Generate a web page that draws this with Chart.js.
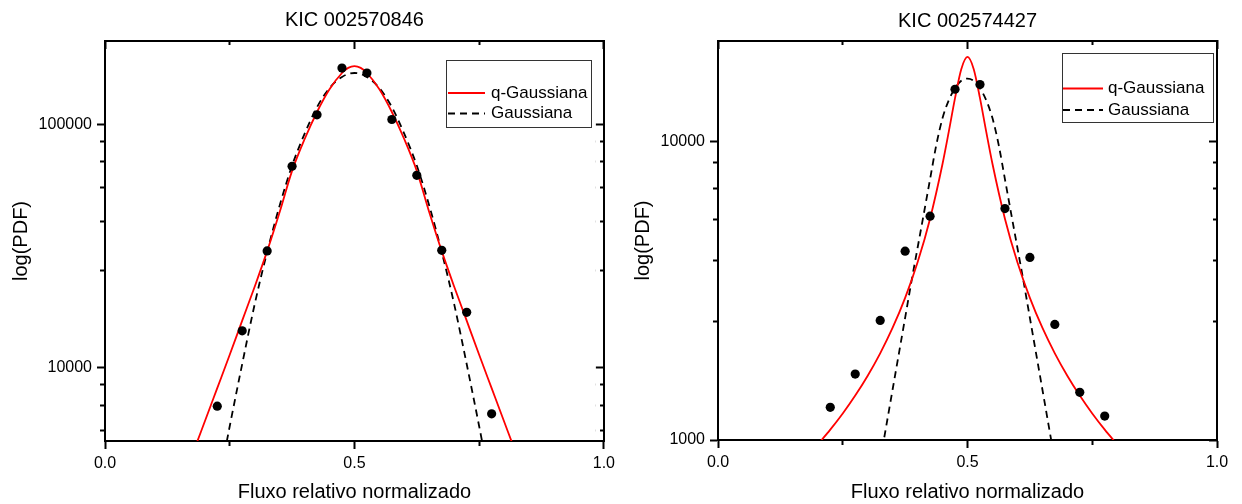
<!DOCTYPE html>
<html>
<head>
<meta charset="utf-8">
<script src="https://cdn.jsdelivr.net/npm/chart.js@4.4.1/dist/chart.umd.min.js"></script>
<style>
  html, body { margin: 0; padding: 0; background: #fff; }
  #wrapL { position: absolute; left: 0; top: 0; width: 620px; height: 504px; }
  #wrapR { position: absolute; left: 620px; top: 0; width: 622px; height: 504px; }
</style>
</head>
<body>
<div id="wrapL"><canvas id="cL" width="620" height="504"></canvas></div>
<div id="wrapR"><canvas id="cR" width="622" height="504"></canvas></div>
<script>
// ---------- shared axis data ----------
const X_TITLE = 'Fluxo relativo normalizado';
const Y_TITLE = 'log(PDF)';
const X_TICKS = [0, 0.25, 0.5, 0.75, 1];
const X_TICK_LABELS = ['0.0', '', '0.5', '', '1.0'];
const SERIES_NAMES = ['q-Gaussiana', 'Gaussiana'];

// bin centres of the histogram points
const BIN_X = [0.225, 0.275, 0.325, 0.375, 0.425, 0.475, 0.525, 0.575, 0.625, 0.675, 0.725, 0.775];

// ---------- left panel : KIC 002570846 ----------
const LEFT_TITLE = 'KIC 002570846';
const LEFT_PDF = [6950, 14170, 30170, 67150, 109200, 169900, 162200, 104500, 61650, 30340, 16880, 6465];
const LEFT_Q_X = [0.17, 0.185, 0.2, 0.225, 0.25, 0.275, 0.3, 0.325, 0.35, 0.375, 0.4, 0.425, 0.45, 0.475, 0.4875, 0.5,
                  0.5125, 0.525, 0.55, 0.575, 0.6, 0.625, 0.65, 0.675, 0.7, 0.725, 0.75, 0.775, 0.8, 0.815, 0.83];
const LEFT_Q_Y = [4120, 4980, 6010, 8240, 11300, 15600, 21500, 30100, 43500, 64300, 86700, 112200, 139000, 162200, 170200, 173000,
                  170200, 162200, 139000, 112200, 86700, 64300, 43500, 30100, 21500, 15600, 11300, 8240, 6010, 4980, 4120];
const LEFT_G_X = [0.235, 0.25, 0.275, 0.3, 0.325, 0.35, 0.375, 0.4, 0.425, 0.45, 0.475, 0.5,
                  0.525, 0.55, 0.575, 0.6, 0.625, 0.65, 0.675, 0.7, 0.725, 0.75, 0.765];
const LEFT_G_Y = [3980, 5750, 10350, 18200, 29850, 46240, 67600, 91200, 117500, 140600, 156300, 162200,
                  156300, 140600, 117500, 91200, 67600, 46240, 29850, 18200, 10350, 5750, 3980];
const LEFT_Y_MIN = 5000, LEFT_Y_MAX = 219500;
const LEFT_Y_TICKS = [5500, 7000, 8500, 10000, 25000, 40000, 55000, 70000, 85000, 100000];
const LEFT_Y_LABELS = ['', '', '', '10000', '', '', '', '', '', '100000'];

// ---------- right panel : KIC 002574427 ----------
const RIGHT_TITLE = 'KIC 002574427';
const RIGHT_PDF = [1287, 1664, 2518, 4300, 5634, 15020, 15570, 5977, 4096, 2442, 1445, 1203];
const RIGHT_Q_X = [0.2, 0.225, 0.25, 0.275, 0.3, 0.325, 0.35, 0.375, 0.4, 0.425, 0.45, 0.4625, 0.475, 0.4875, 0.5,
                   0.5125, 0.525, 0.5375, 0.55, 0.575, 0.6, 0.625, 0.65, 0.675, 0.7, 0.725, 0.75, 0.775, 0.8];
const RIGHT_Q_Y = [966, 1083, 1227, 1409, 1643, 1953, 2380, 2997, 3945, 5527, 8445, 10820, 14020, 17540, 19280,
                   17540, 14020, 10820, 8445, 5527, 3945, 2997, 2380, 1953, 1643, 1409, 1227, 1083, 966];
const RIGHT_G_X = [0.325, 0.3375, 0.35, 0.3625, 0.375, 0.3875, 0.4, 0.4125, 0.425, 0.4375, 0.45, 0.4625, 0.475, 0.4875, 0.5,
                   0.5125, 0.525, 0.5375, 0.55, 0.5625, 0.575, 0.5875, 0.6, 0.6125, 0.625, 0.6375, 0.65, 0.6625, 0.675];
const RIGHT_G_Y = [851, 1122, 1480, 1950, 2570, 3390, 4415, 5750, 7500, 9770, 12020, 13800, 15140, 16030, 16300,
                   16030, 15140, 13800, 12020, 9770, 7500, 5750, 4415, 3390, 2570, 1950, 1480, 1122, 851];
const RIGHT_Y_MIN = 1000, RIGHT_Y_MAX = 21800;
const RIGHT_Y_TICKS = [1000, 2500, 4000, 5500, 7000, 8500, 10000];
const RIGHT_Y_LABELS = ['1000', '', '', '', '', '', '10000'];

// ---------- helpers ----------
Chart.defaults.font.family = '"Liberation Sans", Arial, sans-serif';
Chart.defaults.color = '#000';

function pts(xs, ys) { return xs.map((x, i) => ({ x: x, y: ys[i] })); }

const boxLegend = {
  id: 'boxLegend',
  afterDraw(chart, args, o) {
    if (!o || !o.box) return;
    const ctx = chart.ctx;
    ctx.save();
    ctx.setLineDash([]);
    ctx.strokeStyle = '#333';
    ctx.lineWidth = 1;
    ctx.strokeRect(o.box[0] + 0.5, o.box[1] + 0.5, o.box[2], o.box[3]);
    o.items.forEach((dsIndex, i) => {
      const ds = chart.data.datasets[dsIndex];
      const y = o.rows[i];
      ctx.beginPath();
      ctx.strokeStyle = ds.borderColor;
      ctx.lineWidth = ds.borderWidth;
      ctx.setLineDash(ds.borderDash || []);
      ctx.moveTo(o.line[0], y);
      ctx.lineTo(o.line[1], y);
      ctx.stroke();
      ctx.setLineDash([]);
      ctx.fillStyle = '#000';
      ctx.font = '17px "Liberation Sans", Arial, sans-serif';
      ctx.textBaseline = 'middle';
      ctx.textAlign = 'left';
      ctx.fillText(ds.label, o.textX, y);
    });
    ctx.restore();
  }
};

function tickGrid(labels, ticks, majorLen, dashMinor, offMinor) {
  return {
    display: true,
    drawOnChartArea: false,
    drawTicks: true,
    tickLength: majorLen,
    tickWidth: 2,
    tickColor: '#000',
    tickBorderDash: (c) => (c.tick && labels[ticks.indexOf(c.tick.value)] === '') ? dashMinor : [],
    tickBorderDashOffset: (c) => (c.tick && labels[ticks.indexOf(c.tick.value)] === '') ? offMinor : 0
  };
}

function makeChart(canvasId, p) {
  const border = { display: true, color: '#000', width: 2 };
  return new Chart(document.getElementById(canvasId), {
    type: 'scatter',
    data: {
      datasets: [
        { label: 'dados', data: pts(BIN_X, p.pdf), showLine: false, pointRadius: 4.6, pointHoverRadius: 4.6,
          pointBackgroundColor: '#000', pointBorderWidth: 0, borderColor: '#000', backgroundColor: '#000' },
        { label: SERIES_NAMES[0], data: pts(p.qx, p.qy), showLine: true, pointRadius: 0, borderColor: '#ff0000',
          borderWidth: 1.8, cubicInterpolationMode: 'monotone', backgroundColor: '#ff0000' },
        { label: SERIES_NAMES[1], data: pts(p.gx, p.gy), showLine: true, pointRadius: 0, borderColor: '#000',
          borderWidth: 1.8, borderDash: [7, 5], cubicInterpolationMode: 'monotone', backgroundColor: '#000' }
      ]
    },
    options: {
      responsive: false,
      devicePixelRatio: 1,
      animation: false,
      events: [],
      layout: { padding: { left: 0, right: p.padRight, top: 0, bottom: 0 } },
      plugins: {
        legend: { display: false },
        tooltip: { enabled: false },
        title: { display: true, text: p.title, fullSize: false, font: { size: 20, weight: 'normal' }, color: '#000',
                 padding: { top: p.titleTop, bottom: p.titleBottom } },
        boxLegend: p.legend
      },
      scales: {
        x: {
          type: 'linear', position: 'bottom', min: 0, max: 1,
          afterBuildTicks: (s) => { s.ticks = X_TICKS.map(v => ({ value: v })); },
          afterFit: (s) => { s.height = p.xHeight; },
          ticks: { autoSkip: false, maxRotation: 0, padding: 5, font: { size: 16 }, color: '#000',
                   callback: (v) => X_TICK_LABELS[X_TICKS.indexOf(v)] },
          grid: tickGrid(X_TICK_LABELS, X_TICKS, 8, [4, 3], 0),
          border: border,
          title: { display: true, text: X_TITLE, font: { size: 20 }, color: '#000', padding: { top: 0, bottom: 0 } }
        },
        x2: {
          type: 'linear', position: 'top', min: 0, max: 1,
          afterBuildTicks: (s) => { s.ticks = X_TICKS.map(v => ({ value: v })); },
          afterFit: (s) => { s.height = 0; },
          ticks: { display: false },
          grid: tickGrid(X_TICK_LABELS, X_TICKS, -8, [5, 4], 5),
          border: border
        },
        y: {
          type: 'logarithmic', position: 'left', min: p.ymin, max: p.ymax,
          afterBuildTicks: (s) => { s.ticks = p.yticks.map(v => ({ value: v })); },
          afterFit: (s) => { s.width = p.yWidth; },
          ticks: { autoSkip: false, padding: 5, font: { size: 16 }, color: '#000',
                   callback: (v) => p.ylabels[p.yticks.indexOf(v)] },
          grid: tickGrid(p.ylabels, p.yticks, 8, [4, 3], 4),
          border: border,
          title: { display: true, text: Y_TITLE, font: { size: 20 }, color: '#000', padding: { top: p.yTitlePad, bottom: 0 } }
        },
        y2: {
          type: 'logarithmic', position: 'right', min: p.ymin, max: p.ymax,
          afterBuildTicks: (s) => { s.ticks = p.yticks.map(v => ({ value: v })); },
          afterFit: (s) => { s.width = 0; },
          ticks: { display: false },
          grid: tickGrid(p.ylabels, p.yticks, -8, [5, 4], 0),
          border: border
        }
      }
    },
    plugins: [boxLegend]
  });
}

makeChart('cL', {
  title: LEFT_TITLE, pdf: LEFT_PDF, qx: LEFT_Q_X, qy: LEFT_Q_Y, gx: LEFT_G_X, gy: LEFT_G_Y,
  ymin: LEFT_Y_MIN, ymax: LEFT_Y_MAX, yticks: LEFT_Y_TICKS, ylabels: LEFT_Y_LABELS,
  padRight: 15, yWidth: 105, xHeight: 63, titleTop: 8, titleBottom: 9, yTitlePad: 9,
  legend: { box: [446, 60, 145, 67], line: [448, 485], textX: 491, rows: [93, 113.5], items: [1, 2] }
});

makeChart('cR', {
  title: RIGHT_TITLE, pdf: RIGHT_PDF, qx: RIGHT_Q_X, qy: RIGHT_Q_Y, gx: RIGHT_G_X, gy: RIGHT_G_Y,
  ymin: RIGHT_Y_MIN, ymax: RIGHT_Y_MAX, yticks: RIGHT_Y_TICKS, ylabels: RIGHT_Y_LABELS,
  padRight: 25, yWidth: 98, xHeight: 64, titleTop: 9, titleBottom: 8, yTitlePad: 11,
  legend: { box: [442, 53, 151, 69], line: [443, 483], textX: 488, rows: [88.5, 110], items: [1, 2] }
});
</script>
</body>
</html>
